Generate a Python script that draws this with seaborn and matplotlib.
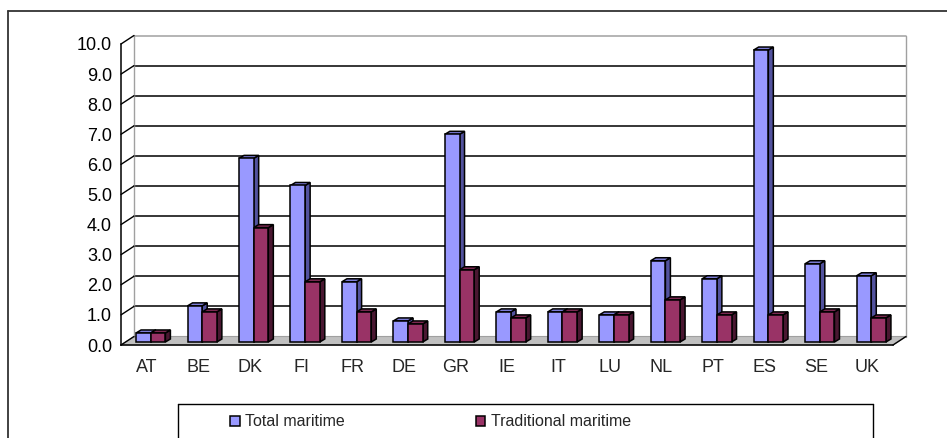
import numpy as np
import pandas as pd
import seaborn as sns
import matplotlib.pyplot as plt
from matplotlib.patches import Polygon, Patch
from matplotlib.lines import Line2D
from matplotlib.ticker import FormatStrFormatter

countries = ["AT", "BE", "DK", "FI", "FR", "DE", "GR", "IE", "IT", "LU", "NL", "PT", "ES", "SE", "UK"]
total_maritime = [0.3, 1.2, 6.1, 5.2, 2.0, 0.7, 6.9, 1.0, 1.0, 0.9, 2.7, 2.1, 9.7, 2.6, 2.2]
traditional_maritime = [0.3, 1.0, 3.8, 2.0, 1.0, 0.6, 2.4, 0.8, 1.0, 0.9, 1.4, 0.9, 0.9, 1.0, 0.8]
series_names = ["Total maritime", "Traditional maritime"]
front_colors = ["#9999ff", "#993366"]
side_colors = ["#52529e", "#4a1731"]
top_colors = ["#7b7bd6", "#7a2850"]

df = pd.DataFrame({
    "country": countries * 2,
    "value": total_maritime + traditional_maritime,
    "series": [series_names[0]] * len(countries) + [series_names[1]] * len(countries),
})

sns.set_style("white")
plt.rcParams["font.family"] = ["Liberation Sans", "DejaVu Sans"]

W, H = 947, 438
fig = plt.figure(figsize=(W / 100, H / 100), dpi=100)
# front plane of the 3d box: x 121..893 px, y=0 at 345 px, y=10 at 44 px
ax = fig.add_axes([121 / W, (H - 345) / H, 772 / W, 301 / H])
ax.set_xlim(-0.5, len(countries) - 0.5)
ax.set_ylim(0, 10)

# pixel -> data units
ux = len(countries) / ax.bbox.width
uy = 10 / ax.bbox.height
wx, wy = 13 * ux, 8.5 * uy   # back wall offset
bx, by = 4 * ux, 3 * uy      # bars sit in the middle of the depth
dx, dy = 5 * ux, 3 * uy      # bar depth

sns.barplot(data=df, x="country", y="value", hue="series", palette=front_colors,
            saturation=1, edgecolor="black", linewidth=1.1, width=0.57, ax=ax,
            legend=False, zorder=4)

# back wall, floor and gridlines
x0, x1 = -0.5, len(countries) - 0.5
floor = Polygon([(x0, 0), (x1, 0), (x1 + wx, wy), (x0 + wx, wy)], closed=True,
                facecolor="#c0c0c0", edgecolor="#a0a0a0", lw=0.8, zorder=1, clip_on=False)
ax.add_patch(floor)
for v in range(1, 11):
    col = "#a0a0a0" if v == 10 else "black"
    ax.plot([x0 + wx, x1 + wx], [v + wy, v + wy], color=col, lw=1.1, zorder=1, clip_on=False)
for xe in (x0 + wx, x1 + wx):
    ax.plot([xe, xe], [wy, 10 + wy], color="#a0a0a0", lw=1.0, zorder=1, clip_on=False)
# slanted connectors from the front axis to the wall
for v in range(0, 11):
    ax.plot([x0, x0 + wx], [v, v + wy], color="black", lw=1.0, zorder=2, clip_on=False)
ax.plot([x1, x1 + wx], [0, wy], color="black", lw=1.0, zorder=2, clip_on=False)

# 3d faces on every bar
n = len(countries)
for i, p in enumerate(list(ax.patches)):
    if p is floor:
        continue
    k = i // n
    if k > 1:
        continue
    p.set_x(p.get_x() + bx)
    p.set_y(by)
    xa, xb, h = p.get_x(), p.get_x() + p.get_width(), p.get_height()
    side = Polygon([(xb, by), (xb + dx, by + dy), (xb + dx, by + h + dy), (xb, by + h)],
                   closed=True, facecolor=side_colors[k], edgecolor="black", lw=1.1,
                   zorder=3, clip_on=False)
    top = Polygon([(xa, by + h), (xa + dx, by + h + dy), (xb + dx, by + h + dy), (xb, by + h)],
                  closed=True, facecolor=top_colors[k], edgecolor="black", lw=1.1,
                  zorder=3, clip_on=False)
    ax.add_patch(side)
    ax.add_patch(top)
    p.set_clip_on(False)

# axes
for s in ["top", "right"]:
    ax.spines[s].set_visible(False)
ax.spines["left"].set_color("black")
ax.spines["bottom"].set_color("black")
ax.spines["left"].set_linewidth(1.1)
ax.spines["bottom"].set_linewidth(1.1)
ax.patch.set_visible(False)
ax.set_yticks(np.arange(0, 11, 1))
ax.yaxis.set_major_formatter(FormatStrFormatter("%.1f"))
ax.tick_params(axis="y", direction="out", length=3.5, width=1.0, pad=3, labelsize=13, colors="black")
ax.set_xticks(range(n))
ax.set_xticklabels(countries)
ax.set_xticks(np.arange(-0.5, n, 1), minor=True)
ax.tick_params(axis="x", which="major", length=0, pad=10, labelsize=13)
ax.tick_params(axis="x", which="minor", direction="out", length=3.5, width=1.0)
ax.set_xlabel("")
ax.set_ylabel("")

# outer chart border (top and left visible)
fig.add_artist(Line2D([8 / W, 1], [1 - 11 / H, 1 - 11 / H], color="#333333", lw=1.3))
fig.add_artist(Line2D([8 / W, 8 / W], [0, 1 - 11 / H], color="#333333", lw=1.3))

# legend box running off the bottom
lb_l, lb_r, lb_t = 178 / W, 873 / W, 1 - 404 / H
fig.add_artist(Line2D([lb_l, lb_r], [lb_t, lb_t], color="black", lw=1.0))
fig.add_artist(Line2D([lb_l, lb_l], [0, lb_t], color="black", lw=1.0))
fig.add_artist(Line2D([lb_r, lb_r], [0, lb_t], color="black", lw=1.0))

handles = [Patch(facecolor=c, edgecolor="black", lw=1.1) for c in front_colors]
fig.legend(handles, series_names, ncol=2, loc="center left",
           bbox_to_anchor=(230 / W, 1 - 422 / H), frameon=False, fontsize=11.5,
           handlelength=0.6, handleheight=0.6, handletextpad=0.35, columnspacing=8.2,
           borderpad=0, borderaxespad=0)

fig.savefig("out.png", dpi=100)
